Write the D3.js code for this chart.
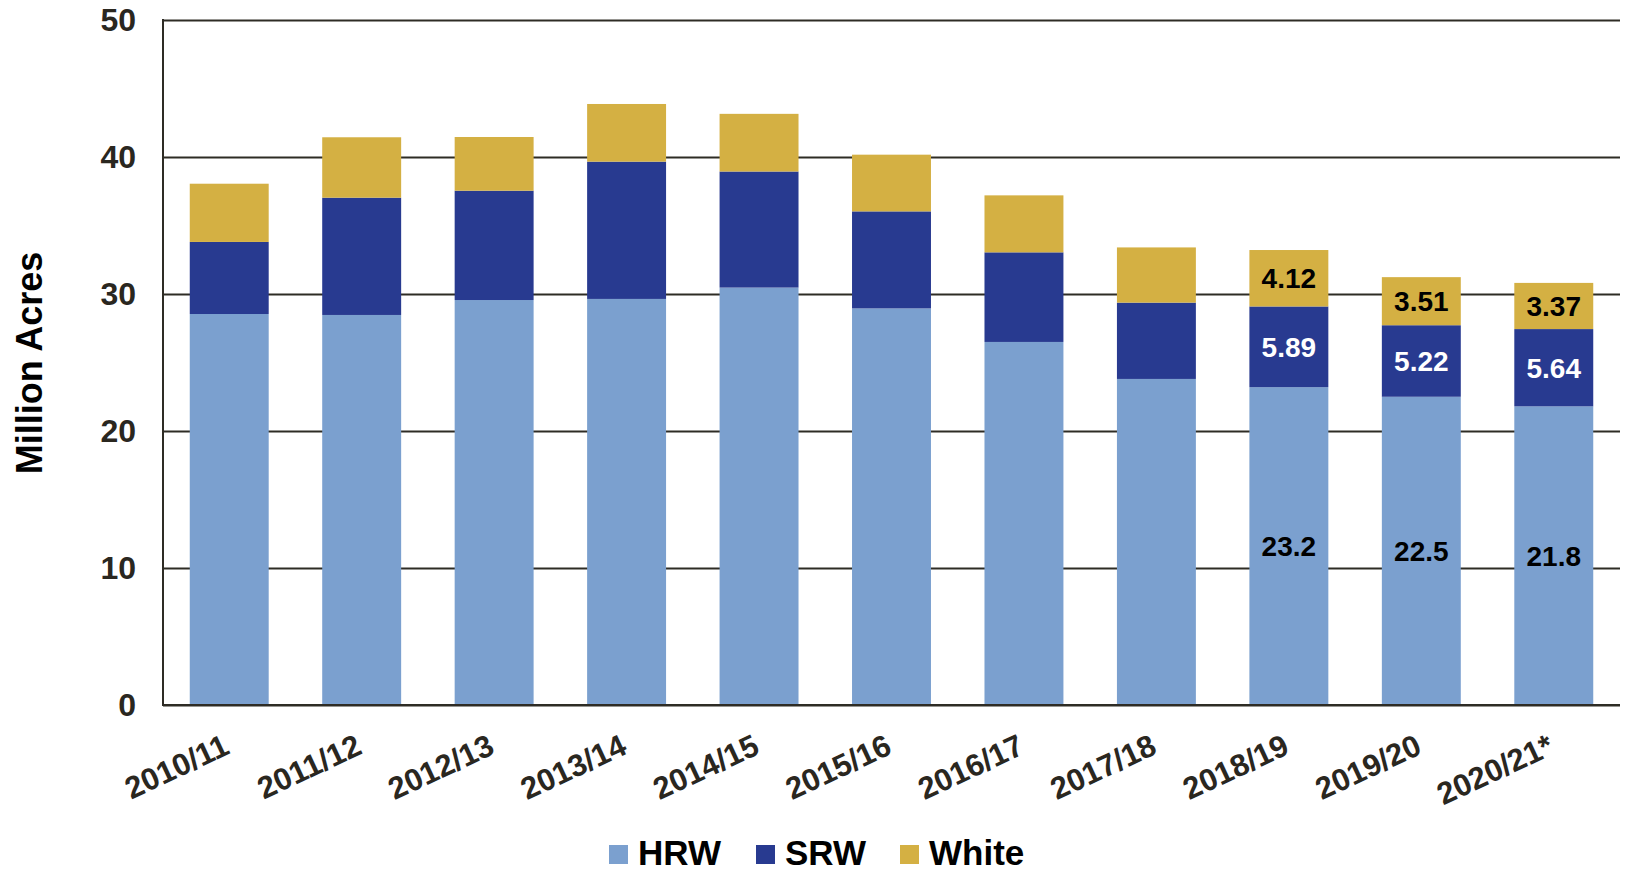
<!DOCTYPE html>
<html>
<head>
<meta charset="utf-8">
<script src="https://cdn.jsdelivr.net/npm/d3@7/dist/d3.min.js"></script>
<style>
  html, body { margin: 0; padding: 0; background: #fff; }
  svg { display: block; }
  text { font-family: "Liberation Sans", Arial, Helvetica, sans-serif; font-weight: bold; }
</style>
</head>
<body>
<svg id="chart" width="1627" height="873"></svg>
<script>
// ---- Data ----
const categories = ["2010/11","2011/12","2012/13","2013/14","2014/15","2015/16","2016/17","2017/18","2018/19","2019/20","2020/21*"];
const hrw   = [28.54, 28.47, 29.56, 29.64, 30.47, 28.95, 26.50, 23.80, 23.2, 22.5, 21.8];
const srw   = [5.26, 8.56, 7.98, 10.02, 8.47, 7.08, 6.54, 5.57, 5.89, 5.22, 5.64];
const white = [4.25, 4.41, 3.92, 4.21, 4.21, 4.14, 4.16, 4.03, 4.12, 3.51, 3.37];
const seriesNames = ["HRW", "SRW", "White"];
const yTicks = [0, 10, 20, 30, 40, 50];
const labeledCategories = ["2018/19", "2019/20", "2020/21*"];
const yTitle = "Million Acres";

// ---- Styles ----
const colors = { HRW: "#7BA0CF", SRW: "#283A90", White: "#D4B043" };
const labelColors = { HRW: "#000", SRW: "#fff", White: "#000" };
const textColor = "#2a271f";

const svg = d3.select("#chart");
const mLeft = 163, mRight = 1620, mTop = 20, mBottom = 705;

const rows = categories.map((c, i) => ({ cat: c, HRW: hrw[i], SRW: srw[i], White: white[i] }));
const stacked = d3.stack().keys(seriesNames)(rows);

const x = d3.scaleBand().domain(categories).range([mLeft, mRight]).paddingInner(0.404).paddingOuter(0.202);
const y = d3.scaleLinear().domain([0, 50]).range([mBottom, mTop]);

// gridlines
const grid = svg.append("g")
  .attr("transform", `translate(${mLeft},0)`)
  .call(d3.axisLeft(y).tickValues(yTicks).tickSize(-(mRight - mLeft)).tickFormat(""));
grid.select(".domain").remove();
grid.selectAll(".tick line").attr("stroke", "#2e2c25").attr("stroke-width", 2);

// bars
svg.append("g").selectAll("g").data(stacked).join("g")
  .attr("fill", d => colors[d.key])
  .selectAll("rect").data(d => d).join("rect")
  .attr("x", d => x(d.data.cat))
  .attr("width", x.bandwidth())
  .attr("y", d => y(d[1]))
  .attr("height", d => y(d[0]) - y(d[1]));

// left axis line
svg.append("line").attr("x1", mLeft).attr("x2", mLeft).attr("y1", y(50) - 1).attr("y2", y(0) + 1)
  .attr("stroke", "#2e2c25").attr("stroke-width", 2);
// bottom axis line
svg.append("line").attr("x1", mLeft).attr("x2", mRight).attr("y1", y(0)).attr("y2", y(0))
  .attr("stroke", "#2e2c25").attr("stroke-width", 2);

// y tick labels
const yAxis = svg.append("g")
  .attr("transform", `translate(${mLeft},0)`)
  .call(d3.axisLeft(y).tickValues(yTicks).tickSize(0).tickPadding(27).tickFormat(d3.format("d")));
yAxis.select(".domain").remove();
yAxis.selectAll("text")
  .attr("font-size", 32).attr("fill", textColor)
  .attr("font-family", "Liberation Sans, Arial, sans-serif").attr("font-weight", "bold");

// x tick labels
const xAxis = svg.append("g")
  .attr("transform", `translate(0,${mBottom})`)
  .call(d3.axisBottom(x).tickSize(0).tickPadding(0));
xAxis.select(".domain").remove();
xAxis.selectAll("text")
  .attr("font-size", 31).attr("fill", textColor)
  .attr("font-family", "Liberation Sans, Arial, sans-serif").attr("font-weight", "bold")
  .attr("text-anchor", "end")
  .attr("y", 0).attr("dy", 0)
  .attr("transform", "translate(2,48) rotate(-25)");

// y title
svg.append("text")
  .attr("transform", `translate(42,${(250 + 476) / 2}) rotate(-90)`)
  .attr("text-anchor", "middle")
  .attr("font-size", 36).attr("fill", "#000")
  .text(yTitle);

// data labels
stacked.forEach(s => {
  svg.append("g").selectAll("text")
    .data(s.filter(d => labeledCategories.includes(d.data.cat)))
    .join("text")
    .attr("x", d => x(d.data.cat) + x.bandwidth() / 2)
    .attr("y", d => y((d[0] + d[1]) / 2))
    .attr("dy", "0.36em")
    .attr("text-anchor", "middle")
    .attr("font-size", 28)
    .attr("fill", labelColors[s.key])
    .text(d => d.data[s.key]);
});

// legend
const legendX = [609, 756, 900];
const lg = svg.append("g").selectAll("g").data(seriesNames).join("g")
  .attr("transform", (d, i) => `translate(${legendX[i]},845)`);
lg.append("rect").attr("width", 19).attr("height", 19).attr("fill", d => colors[d]);
lg.append("text").attr("x", 29).attr("y", 20)
  .attr("font-size", 35).attr("fill", "#000").text(d => d);
</script>
</body>
</html>
